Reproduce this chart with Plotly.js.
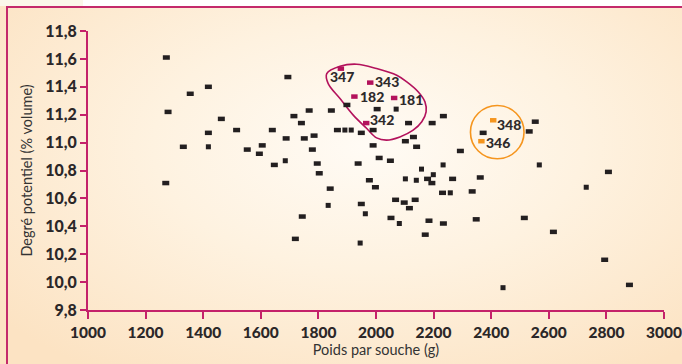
<!DOCTYPE html>
<html>
<head>
<meta charset="utf-8">
<script src="https://cdn.plot.ly/plotly-3.0.1.min.js"></script>
<style>
  html, body { margin:0; padding:0; width:682px; height:364px; overflow:hidden; background:#fff; }
  #bg { position:absolute; left:0; top:0; width:682px; height:364px;
        background: radial-gradient(ellipse 70% 75% at 54% 40%, #FFFBF5 0%, #FEF2E0 45%, #FCE3C3 100%); }
  #stripW { position:absolute; left:83px; top:0; width:599px; height:6px; background:#fff; }
  #stripC { position:absolute; left:0; top:0; width:83px; height:6px; background:#FBF7EA; }
  #frameTop { position:absolute; left:6px; top:6px; width:676px; height:2px; background:#C42A6B; }
  #frameLeft { position:absolute; left:6px; top:6px; width:2px; height:358px; background:#C42A6B; }
  #chart { position:absolute; left:0; top:0; width:682px; height:364px; }
</style>
</head>
<body>
<div id="bg"></div>
<div id="stripC"></div>
<div id="stripW"></div>
<div id="frameTop"></div>
<div id="frameLeft"></div>
<div id="chart"></div>
<script>
// Poids par souche (g) / Degré potentiel (% volume)
const blackX = [1272,1694,1418,1355,1278,1463,1715,1741,1516,1418,1640,1688,1331,1553,1605,1595,1647,1270,1720,1744,
                1899,2004,2234,1768,1845,2113,2195,1866,1949,1990,1751,1785,2102,2130,2141,1779,1990,2011,2050,1938,
                1796,1803,2179,2194,1977,1998,1841,1949,2068,2098,2136,2116,2052,2184,2234,2171,2231,2372,2553,2532,
                2293,2807,2266,2362,2334,2348,2515,2616,2794,2880];
const blackY = [11.61,11.47,11.40,11.35,11.22,11.17,11.19,11.14,11.09,11.07,11.09,11.03,10.97,10.95,10.98,10.92,10.84,10.71,10.31,10.47,
                11.27,11.24,11.19,11.23,11.23,11.14,11.14,11.09,11.07,11.09,11.03,11.05,11.01,11.04,10.97,10.95,10.98,10.89,10.87,10.85,
                10.85,10.78,10.74,10.71,10.73,10.68,10.67,10.56,10.59,10.57,10.59,10.53,10.46,10.44,10.42,10.34,10.64,11.07,11.15,11.08,
                10.94,10.79,10.74,10.75,10.65,10.45,10.46,10.36,10.16,9.98];
const blackSmallX = [1418,1685,2070,1892,1914,2233,2158,2199,2102,2140,1834,1963,2081,1945,2258,2567,2730,2441];
const blackSmallY = [10.97,10.87,11.24,11.09,11.09,10.84,10.81,10.77,10.74,10.73,10.55,10.49,10.42,10.28,10.64,10.84,10.68,9.96];

const magentaLabels = ['347','343','182','181','342'];
const magentaX = [1878,1980,1925,2063,1966];
const magentaY = [11.53,11.43,11.33,11.32,11.14];

const orangeLabels = ['348','346'];
const orangeX = [2407,2366];
const orangeY = [11.16,11.01];

// outline drawn around the magenta group
const loopX = [1829,1875,1933,2002,2072,2107,2147,2170,2174,2159,2129,2083,2037,2002,1968,1921,1875,1834,1829];
const loopY = [11.495,11.547,11.562,11.531,11.483,11.435,11.363,11.292,11.220,11.149,11.089,11.041,11.018,11.034,11.101,11.197,11.316,11.423,11.495];
// circle around the orange pair
const circleX = [2328,2514];
const circleY = [10.884,11.266];

const xTicks = [1000,1200,1400,1600,1800,2000,2200,2400,2600,2800,3000];
const yTicks = [9.8,10.0,10.2,10.4,10.6,10.8,11.0,11.2,11.4,11.6,11.8];

const AX = '#C4226A';
const MAG = '#B3125C';
const ORA = '#F5951E';
const INK = '#231F20';

// 'line-ew' symbol length is 1.4 x size, thickness is the line width
function rectMarker(color, size, w) {
  return {symbol:'line-ew', size:size, color:color, line:{color:color, width:w}};
}

const traces = [
  {x:loopX, y:loopY, mode:'lines', line:{color:MAG, width:1.6, shape:'spline', smoothing:1}, hoverinfo:'skip'},
  {x:blackX, y:blackY, mode:'markers', marker:rectMarker(INK,5,4.5), hoverinfo:'skip'},
  {x:blackSmallX, y:blackSmallY, mode:'markers', marker:rectMarker(INK,3.6,5), hoverinfo:'skip'},
  {x:magentaX, y:magentaY, mode:'markers', marker:rectMarker(MAG,4.6,4.5), hoverinfo:'skip'},
  {x:orangeX, y:orangeY, mode:'markers', marker:rectMarker(ORA,4.6,4.5), hoverinfo:'skip'}
];

const labelOffsets = { '347':{anchor:'center', dx:1, dy:-8}, '343':{dx:3, dy:1}, '182':{dx:4, dy:0}, '181':{dx:3, dy:-2},
                       '342':{dx:2, dy:4}, '348':{dx:2, dy:-4}, '346':{dx:3, dy:-1} };
const annotations = [];
function addLabels(xs, ys, labels) {
  labels.forEach((t,i) => {
    const o = labelOffsets[t] || {dx:4, dy:0};
    annotations.push({x:xs[i], y:ys[i], text:t, showarrow:false,
      xanchor: o.anchor || 'left', yanchor:'middle', xshift:o.dx, yshift:o.dy,
      font:{family:'Lato, sans-serif', size:14, weight:900, color:'#2E2A2B'}});
  });
}
addLabels(magentaX, magentaY, magentaLabels);
addLabels(orangeX, orangeY, orangeLabels);

const layout = {
  width:682, height:364,
  margin:{l:88, r:18, t:31, b:54},
  paper_bgcolor:'rgba(0,0,0,0)', plot_bgcolor:'rgba(0,0,0,0)',
  showlegend:false,
  separators:',.',
  xaxis:{range:[1000,3000], tickvals:xTicks, tickformat:'d', showgrid:false, zeroline:false,
         showline:true, linecolor:AX, linewidth:2, ticks:'outside', ticklen:7, tickwidth:2, tickcolor:AX,
         ticklabeloverflow:'allow',
         tickfont:{family:'Lato, sans-serif', size:15.5, weight:900, color:'#2B2728'},
         title:{text:'Poids par souche (g)', font:{family:'Lato, sans-serif', size:14.5, color:'#333'}, standoff:5}},
  yaxis:{range:[9.8,11.8], tickvals:yTicks, tickformat:'.1f', showgrid:false, zeroline:false,
         showline:true, linecolor:AX, linewidth:2, ticks:'outside', ticklen:6, tickwidth:2, tickcolor:AX,
         ticklabeloverflow:'allow',
         tickfont:{family:'Lato, sans-serif', size:16, weight:900, color:'#2B2728'},
         title:{text:'Degré potentiel (% volume)', font:{family:'Lato, sans-serif', size:14.5, color:'#333'}, standoff:9}},
  shapes:[{type:'circle', xref:'x', yref:'y', x0:circleX[0], x1:circleX[1], y0:circleY[0], y1:circleY[1],
           line:{color:ORA, width:1.6}}],
  annotations:annotations
};

Plotly.newPlot('chart', traces, layout, {staticPlot:true, displayModeBar:false});
</script>
</body>
</html>
